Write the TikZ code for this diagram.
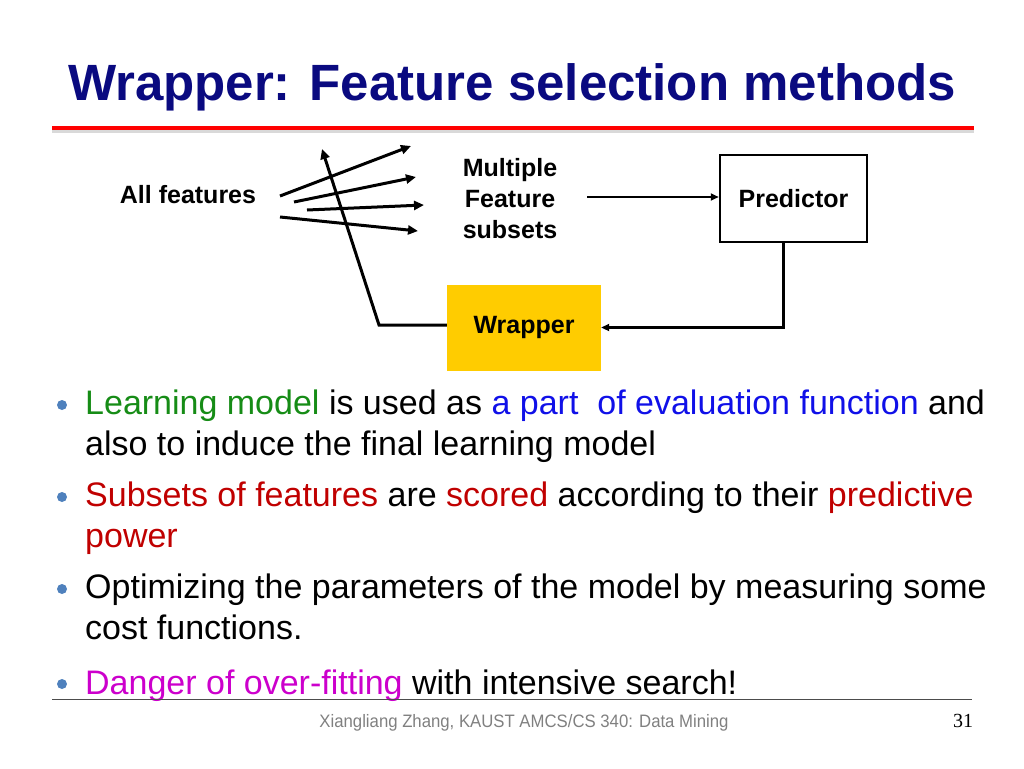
\documentclass[tikz,border=0pt]{standalone}
\usepackage{fontspec}
\setmainfont{Liberation Sans}
\newfontfamily\narrowfont[FakeStretch=0.93]{Liberation Sans}
\newfontfamily\seriffont{Liberation Serif}
\usetikzlibrary{arrows.meta}
\definecolor{titleblue}{HTML}{0A0A80}
\definecolor{bulletblue}{HTML}{4F81BD}
\definecolor{tgreen}{HTML}{168C16}
\definecolor{tblue}{HTML}{1010E8}
\definecolor{tred}{HTML}{C00000}
\definecolor{tmag}{HTML}{CC00CC}
\definecolor{wrapyellow}{HTML}{FFCC00}
\definecolor{footgrey}{HTML}{808080}
\tikzset{
  arr/.style={line width=3pt,-{Triangle[length=10pt,width=9pt]}},
  thinarr/.style={line width=2.5pt,-{Triangle[length=8pt,width=7pt]}},
  lbl/.style={font=\fontsize{25}{31}\selectfont\bfseries, align=center, inner sep=0pt},
  body/.style={font=\fontsize{34}{41}\selectfont, anchor=base west, inner sep=0pt},
  dot/.style={circle, fill=bulletblue, minimum size=10pt, inner sep=0pt},
}
\begin{document}
\begin{tikzpicture}[x=1pt,y=-1pt]
\useasboundingbox (0,0) rectangle (1024,768);
% title
\node[font=\fontsize{51}{60}\selectfont\bfseries, text=titleblue, anchor=base, inner sep=0pt] (title) at (512,100) {Wrapper: Feature selection methods};
\draw[line width=4pt, black!15] (52,131) -- (974,131);
\draw[line width=4pt, red] (52,128) -- (974,128);
% diagram nodes
\node[lbl, anchor=base] (all) at (188,203) {All features};
\node[lbl] (multi) at (510,199) {Multiple\\Feature\\subsets};
\node[draw, line width=2.5pt, minimum width=147pt, minimum height=87pt, lbl] (pred) at (793.5,198.5) {Predictor};
\node[fill=wrapyellow, minimum width=154pt, minimum height=86pt, lbl] (wrap) at (524,327.5) {Wrapper};
% fan of arrows
\coordinate (f1s) at (280,196); \coordinate (f1e) at (411,146);
\coordinate (f2s) at (294,202); \coordinate (f2e) at (416,177);
\coordinate (f3s) at (307,210); \coordinate (f3e) at (424,205);
\coordinate (f4s) at (280,217); \coordinate (f4e) at (418,231);
\draw[arr] (f1s) -- (f1e);
\draw[arr] (f2s) -- (f2e);
\draw[arr] (f3s) -- (f3e);
\draw[arr] (f4s) -- (f4e);
% multi -> predictor
\coordinate (ms) at (587,197);
\draw[thinarr] (ms) -- (ms -| pred.west);
% predictor -> wrapper
\draw[thinarr] ([xshift=-10pt]pred.south) |- (wrap.east);
% wrapper -> back
\coordinate (wc) at (379,325);
\coordinate (wt) at (322,149);
\draw[arr] (wrap.west |- wc) -- (wc) -- (wt);
% bullets
\node[dot] (d1) at (62,405) {};
\node[dot] (d2) at (62,497) {};
\node[dot] (d3) at (62,589) {};
\node[dot] (d4) at (62,684) {};
\node[body] (b1a) at (85,414) {\textcolor{tgreen}{Learning model} is used as \textcolor{tblue}{a part\ \ of evaluation function} and};
\node[body] (b1b) at (85,455) {also to induce the final learning model};
\node[body] (b2a) at (85,506) {\textcolor{tred}{Subsets of features} are \textcolor{tred}{scored} according to their \textcolor{tred}{predictive}};
\node[body, text=tred] (b2b) at (85,547) {power};
\node[body] (b3a) at (85,598) {Optimizing the parameters of the model by measuring some};
\node[body] (b3b) at (85,639) {cost functions.};
\node[body] (b4a) at (85,694) {\textcolor{tmag}{Danger of over-fitting} with intensive search!};
% footer
\draw[line width=1pt, black!70] (52,699) -- (972,699);
\node[font=\narrowfont\fontsize{18}{20}\selectfont, text=footgrey, anchor=base, inner sep=0pt] (foot) at (524,727) {Xiangliang Zhang, KAUST AMCS/CS 340: Data Mining};
\node[font=\seriffont\fontsize{20}{22}\selectfont, anchor=base, inner sep=0pt] (page) at (963,727) {31};
\end{tikzpicture}
\end{document}
